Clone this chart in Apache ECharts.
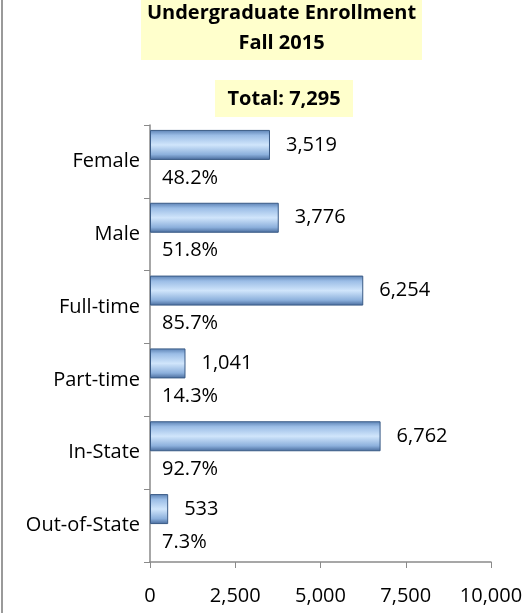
<!DOCTYPE html>
<html>
<head>
<meta charset="utf-8">
<script src="https://cdn.jsdelivr.net/npm/echarts@6/dist/echarts.min.js"></script>
<style>
  html, body { margin: 0; padding: 0; background: #fff; }
  #chart { width: 529px; height: 613px; }
</style>
</head>
<body>
<div id="chart"></div>
<script>
// data
const categories = ['Female', 'Male', 'Full-time', 'Part-time', 'In-State', 'Out-of-State'];
const counts = [3519, 3776, 6254, 1041, 6762, 533];
const percents = ['48.2%', '51.8%', '85.7%', '14.3%', '92.7%', '7.3%'];
const titleLines = ['Undergraduate Enrollment', 'Fall 2015'];
const totalText = 'Total: 7,295';
const xTicks = [0, 2500, 5000, 7500, 10000];

const FONT = 'Open Sans';
const chart = echarts.init(document.getElementById('chart'));

const barFill = new echarts.graphic.LinearGradient(0, 0, 0, 1, [
  { offset: 0, color: '#5a80b3' },
  { offset: 0.18, color: '#9bbde6' },
  { offset: 0.5, color: '#d0e5fb' },
  { offset: 0.82, color: '#8cb0dc' },
  { offset: 1, color: '#46699a' }
]);

const option = {
  backgroundColor: '#fff',
  animation: false,
  textStyle: { fontFamily: FONT },
  grid: { left: 150, right: 38, top: 125, bottom: 51 },
  xAxis: {
    type: 'value',
    min: xTicks[0],
    max: xTicks[xTicks.length - 1],
    interval: 2500,
    splitLine: { show: false },
    axisLine: { show: true, lineStyle: { color: '#8a8a8a', width: 1.5 } },
    axisTick: { show: true, length: 6, lineStyle: { color: '#8a8a8a' } },
    axisLabel: {
      color: '#000', fontSize: 20, fontFamily: FONT, margin: 24,
      formatter: v => v.toLocaleString('en-US')
    }
  },
  yAxis: {
    type: 'category',
    data: categories,
    inverse: true,
    axisLine: { show: true, lineStyle: { color: '#8a8a8a', width: 1.5 } },
    axisTick: { show: true, length: 6, lineStyle: { color: '#8a8a8a' } },
    axisLabel: { color: '#000', fontSize: 20, fontFamily: FONT, margin: 10, padding: [7, 0, 0, 0] }
  },
  series: [
    {
      name: 'Count',
      type: 'bar',
      data: counts,
      barWidth: 30,
      barGap: '10%',
      itemStyle: { color: barFill, borderColor: '#3a5b86', borderWidth: 1 },
      label: {
        show: true, position: 'right', distance: 16,
        color: '#000', fontSize: 20, fontFamily: FONT,
        formatter: p => p.value.toLocaleString('en-US')
      }
    },
    {
      name: 'Percent',
      type: 'bar',
      data: counts,
      barWidth: 30,
      itemStyle: { color: 'rgba(0,0,0,0)' },
      label: {
        show: true, position: 'insideLeft', distance: 12,
        color: '#000', fontSize: 20, fontFamily: FONT,
        formatter: p => percents[p.dataIndex]
      }
    }
  ],
  graphic: [
    { type: 'rect', shape: { x: 1, y: 0, width: 2, height: 613 }, style: { fill: '#9a9a9a' } },
    { type: 'rect', shape: { x: 141, y: 0, width: 281, height: 60 }, style: { fill: '#ffffcc' } },
    {
      type: 'text', x: 281.5, y: 28,
      style: {
        text: titleLines.join('\n'), fill: '#000', font: 'bold 20px "' + FONT + '"',
        align: 'center', verticalAlign: 'middle', lineHeight: 30
      }
    },
    { type: 'rect', shape: { x: 215, y: 80, width: 138, height: 37 }, style: { fill: '#ffffcc' } },
    {
      type: 'text', x: 284, y: 99,
      style: {
        text: totalText, fill: '#000', font: 'bold 20px "' + FONT + '"',
        align: 'center', verticalAlign: 'middle'
      }
    }
  ]
};

chart.setOption(option);
</script>
</body>
</html>
